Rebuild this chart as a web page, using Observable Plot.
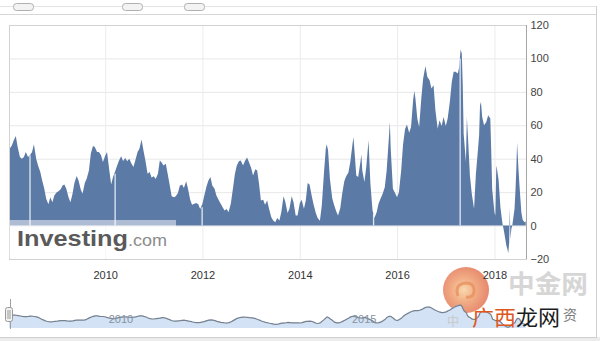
<!DOCTYPE html>
<html><head><meta charset="utf-8">
<script src="https://cdn.jsdelivr.net/npm/d3@7"></script>
<script src="https://cdn.jsdelivr.net/npm/@observablehq/plot@0.6"></script>
<style>
body{margin:0;background:#fff;}
#wrap{position:relative;width:600px;height:341px;overflow:hidden;font-family:"Liberation Sans",Arial,sans-serif;background:#fff}
.abs{position:absolute;left:0;top:0}
</style></head><body>
<div id="wrap">
<svg id="under" class="abs" width="600" height="341">
  <defs><radialGradient id="rg" cx="0.45" cy="0.5" r="0.55">
    <stop offset="0" stop-color="#f8d3a4"/><stop offset="0.5" stop-color="#efa176"/><stop offset="1" stop-color="#e47b5d"/>
  </radialGradient></defs>
  <circle cx="466" cy="290" r="23" fill="url(#rg)" opacity="0.9"/>
  <path d="M458 296 q-4 -12 8 -13 q9 0 8 9 q-1 6 -8 5" fill="none" stroke="#e9915f" stroke-width="3" opacity="0.8"/>
</svg>
<div id="main" class="abs"></div>
<div id="nav" class="abs" style="top:290px"></div>
<svg id="over" class="abs" width="600" height="341" style="pointer-events:none">
  <line x1="0" x2="597" y1="6.5" y2="6.5" stroke="#e4e4e4"/>
  <line x1="0" x2="597" y1="14.5" y2="14.5" stroke="#d6d6d6"/>
  <rect x="13.5" y="3.5" width="20" height="7" rx="3" fill="#f3f3f3" stroke="#b0b0b0"/>
  <rect x="122.5" y="3.5" width="20" height="7" rx="3" fill="#f3f3f3" stroke="#b0b0b0"/>
  <rect x="184.5" y="3.5" width="20" height="7" rx="3" fill="#f3f3f3" stroke="#b0b0b0"/>
  <line x1="596.5" x2="596.5" y1="6" y2="337" stroke="#d0d0d0"/>
  <rect x="0" y="337" width="600" height="4" fill="#ececec"/>
  <line x1="0" x2="597" y1="337.5" y2="337.5" stroke="#cfcfcf"/>
  <rect x="9.5" y="220" width="166.5" height="38" fill="#fff" fill-opacity="0.5"/>
  <text x="17" y="246" font-family="Liberation Sans, Arial, sans-serif" font-weight="bold" font-size="22" fill="#5a5a5a" textLength="111" lengthAdjust="spacingAndGlyphs">Investing</text>
  <text x="128" y="246" font-family="Liberation Sans, Arial, sans-serif" font-size="17" fill="#8c8c8c" textLength="39" lengthAdjust="spacingAndGlyphs">.com</text>
  <line x1="10.5" x2="10.5" y1="299" y2="329" stroke="#a0a0a0"/>
  <rect x="5.5" y="307.5" width="7" height="14" rx="2" fill="#f2f2f2" stroke="#999"/>
  <line x1="8" x2="8" y1="310" y2="319" stroke="#999"/>
  <line x1="10" x2="10" y1="310" y2="319" stroke="#999"/>
  <text x="508" y="293" font-family="Noto Sans CJK SC" font-weight="bold" font-size="25" fill="#d6d6d6" textLength="80" lengthAdjust="spacingAndGlyphs">中金网</text>
  <text x="447" y="326" font-family="Noto Sans CJK SC" font-size="12" fill="#c9c9c9">中</text>
  <text x="472" y="325" font-family="Noto Sans CJK SC" font-size="21" textLength="88" lengthAdjust="spacingAndGlyphs"><tspan fill="#e0571d">广西</tspan><tspan fill="#1c1c1c">龙网</tspan></text>
  <text x="563" y="320" font-family="Noto Sans CJK SC" font-size="14" fill="#7a7a7a">资</text>
</svg>
</div>
<script>
const dates = [
"2008-01-10","2008-01-15","2008-02-01","2008-02-15","2008-03-01","2008-03-15","2008-04-01","2008-04-15","2008-05-01","2008-05-15","2008-06-01","2008-06-15","2008-07-01","2008-07-15","2008-08-01","2008-08-15","2008-09-01","2008-09-15","2008-10-01","2008-10-15","2008-11-01","2008-11-15","2008-12-01","2008-12-15",
"2009-01-01","2009-01-15","2009-02-01","2009-02-15","2009-03-01","2009-03-15","2009-04-01","2009-04-15","2009-05-01","2009-05-15","2009-06-01","2009-06-15","2009-07-01","2009-07-15","2009-08-01","2009-08-15","2009-09-01","2009-09-15","2009-10-01","2009-10-15","2009-11-01","2009-11-15","2009-12-01","2009-12-15",
"2010-01-01","2010-01-15","2010-02-01","2010-02-15","2010-03-01","2010-03-15","2010-04-01","2010-04-15","2010-05-01","2010-05-15","2010-06-01","2010-06-15","2010-07-01","2010-07-15","2010-08-01","2010-08-15","2010-09-01","2010-09-15","2010-10-01","2010-10-15","2010-11-01","2010-11-15","2010-12-01","2010-12-15",
"2011-01-01","2011-01-15","2011-02-01","2011-02-15","2011-03-01","2011-03-15","2011-04-01","2011-04-15","2011-05-01","2011-05-15","2011-06-01","2011-06-15","2011-07-01","2011-07-15","2011-08-01","2011-08-15","2011-09-01","2011-09-15","2011-10-01","2011-10-15","2011-11-01","2011-11-15","2011-12-01","2011-12-15",
"2012-01-01","2012-01-15","2012-02-01","2012-02-15","2012-03-01","2012-03-15","2012-04-01","2012-04-15","2012-05-01","2012-05-15","2012-06-01","2012-06-15","2012-07-01","2012-07-15","2012-08-01","2012-08-15","2012-09-01","2012-09-15","2012-10-01","2012-10-15","2012-11-01","2012-11-15","2012-12-01","2012-12-15",
"2013-01-01","2013-01-15","2013-02-01","2013-02-15","2013-03-01","2013-03-15","2013-04-01","2013-04-15","2013-05-01","2013-05-15","2013-06-01","2013-06-15","2013-07-01","2013-07-15","2013-08-01","2013-08-15","2013-09-01","2013-09-15","2013-10-01","2013-10-15","2013-11-01","2013-11-15","2013-12-01","2013-12-15",
"2014-01-01","2014-01-15","2014-02-01","2014-02-15","2014-03-01","2014-03-15","2014-04-01","2014-04-15","2014-05-01","2014-05-15","2014-06-01","2014-06-15","2014-07-01","2014-07-15","2014-07-22","2014-08-01","2014-08-15","2014-09-01","2014-09-15","2014-10-01","2014-10-15","2014-11-01","2014-11-15","2014-12-01","2014-12-15",
"2015-01-01","2015-01-15","2015-02-01","2015-02-08","2015-02-15","2015-03-01","2015-03-15","2015-04-01","2015-04-08","2015-04-15","2015-05-01","2015-05-15","2015-06-01","2015-06-15","2015-07-01","2015-07-15","2015-08-01","2015-08-15","2015-09-01","2015-09-15","2015-10-01","2015-10-15","2015-11-01","2015-11-08","2015-11-15","2015-12-01","2015-12-15",
"2016-01-01","2016-01-15","2016-02-01","2016-02-15","2016-03-01","2016-03-15","2016-04-01","2016-04-15","2016-05-01","2016-05-10","2016-05-18","2016-06-01","2016-06-15","2016-07-01","2016-07-15","2016-08-01","2016-08-15","2016-09-01","2016-09-15","2016-10-01","2016-10-15","2016-11-01","2016-11-15","2016-12-01","2016-12-15",
"2017-01-01","2017-01-15","2017-02-01","2017-02-15","2017-03-01","2017-03-15","2017-04-01","2017-04-12","2017-04-22","2017-05-01","2017-05-08","2017-05-15","2017-06-01","2017-06-08","2017-06-15","2017-07-01","2017-07-15","2017-08-01","2017-08-15","2017-09-01","2017-09-08","2017-09-15","2017-09-22","2017-10-01","2017-10-15","2017-11-01","2017-11-15","2017-12-01","2017-12-08","2017-12-15",
"2018-01-01","2018-01-08","2018-01-15","2018-01-22","2018-02-01","2018-02-15","2018-03-01","2018-03-15","2018-04-01","2018-04-08","2018-04-15","2018-04-22","2018-04-26","2018-05-01","2018-05-08","2018-05-15","2018-06-01","2018-06-08","2018-06-15","2018-06-20","2018-07-01","2018-07-08","2018-07-15","2018-07-22","2018-08-01","2018-08-15","2018-08-24"
];
const values = [
45,46,48,51,53.6,47,41,40,41,44,41,42,44,48.7,40,36,32,27,22,16,12.8,17,14,18,
19.8,20.5,21.8,24,24.5,22,17,14,19,25.5,29.7,27,21.8,19,25.5,28,33,43,47.6,47,44,44,42,38,
41.7,44,33,24.5,29,32,36,39,41.5,38.7,40.5,38.5,40,37.5,35,39,44,46,51.5,45,38,31,32,28.7,
29.5,27.8,31,39,37.7,36,37,31,24,17.5,17,17.5,19.5,23.8,24.5,22.5,26.5,22,15.5,12.5,13,13.5,12.8,9.9,
13,18,23.5,27,29,24,22,18,15.5,13.3,11,9,9.9,8,13,21,31,36,38.5,39,36,38.7,40.7,38,
34.5,30,33.7,33,25,15,15.5,12.5,15,10,5,3,2,4.5,3,8,17.5,14,7.5,10,17.5,14,6,6,
13.5,15.5,10,15,25.5,24.5,17.5,12.5,7.5,4.5,2.9,12,31,46,48.7,45,28,16.5,12.5,8.5,6,10.5,19,26.5,29.5,
31.8,38,49,53,45,30,29,38,42.7,33,26,35,51,25,9,4.5,8,13,16.5,19,23,33,53,62,45,22,19.8,
17,20,33,48.5,57.6,60.5,55.5,59,75.5,80.5,76,64,59,76,88,95.4,89,87,82,84,69,58,63,59.6,65,
59.5,64,74.5,86,92,92,91,95,105.4,103,85,55,38,65,55,30,19,10,31,47,54,72,74,65,60,62,66,64,45,22,
8,6,36,33,27.5,11,2,-4,-12,-14,-16.5,-10,11,-8,-2,0,10,21,35,49.7,33,24,16,8,3.5,2,2.5
];
// white gaps in the series
const gapDates = ["2008-06-12","2010-03-13","2011-12-26","2015-07-05","2017-04-15"];
const gapTops = [42, 31, 11, 7, 100];
// tick labels
const yTicks = [-20, 0, 20, 40, 60, 80, 100, 120];
const xTickLabels = ["2010", "2012", "2014", "2016", "2018"];
const navTickLabels = ["2010", "2015"];
const xDomain = ["2008-01-10", "2018-08-26"];

const parse = d3.utcParse("%Y-%m-%d");
const parseY = d3.utcParse("%Y");
const series = dates.map((d, i) => ({date: parse(d), value: values[i]}));
const gaps = gapDates.map((d, i) => ({date: parse(d), top: gapTops[i]}));
const xTicks = xTickLabels.map(parseY);
const navTicks = navTickLabels.map(parseY);
const xdom = xDomain.map(parse);
const font = "Liberation Sans, Arial, sans-serif";

const main = Plot.plot({
  width: 600, height: 290,
  marginLeft: 9, marginRight: 74, marginTop: 25, marginBottom: 31,
  style: {fontFamily: font, fontSize: "11px", color: "#333", background: "transparent"},
  x: {type: "utc", domain: xdom, axis: null},
  y: {domain: [-20, 120], axis: null},
  marks: [
    Plot.gridY(yTicks.slice(1, -1), {stroke: "#e8e8e8", strokeOpacity: 1}),
    Plot.gridX(xTicks, {stroke: "#ececec", strokeOpacity: 1}),
    Plot.areaY(series, {x: "date", y: "value", fill: "#5c7aa6"}),
    Plot.ruleX(gaps, {x: "date", y1: 0, y2: "top", stroke: "#e2e9f3", strokeWidth: 1.3}),
    Plot.frame({stroke: "#d2d2d2"}),
    Plot.ruleX([xdom[1]], {stroke: "#a5a5a5"}),
    Plot.axisY(yTicks, {anchor: "right", tickSize: 0, tickPadding: 4, fill: "#444", fontSize: 11, label: null}),
    Plot.axisX(xTicks, {anchor: "bottom", tickSize: 0, tickPadding: 12, tickFormat: d3.utcFormat("%Y"), fill: "#333", fontSize: 11, label: null})
  ]
});
document.getElementById("main").appendChild(main);

const navMin = d3.min(values), navMax = d3.max(values);
const nav = Plot.plot({
  width: 600, height: 48,
  marginLeft: 9, marginRight: 74, marginTop: 13, marginBottom: 10,
  style: {fontFamily: font, fontSize: "11px", background: "transparent"},
  x: {type: "utc", domain: xdom, axis: null},
  y: {domain: [navMin, navMax], axis: null},
  marks: [
    Plot.areaY(series, Plot.windowY({k: 5, anchor: "middle"}, {x: "date", y1: navMin, y2: "value", fill: "#d3e2f4"})),
    Plot.lineY(series, Plot.windowY({k: 5, anchor: "middle"}, {x: "date", y: "value", stroke: "#76818f", strokeWidth: 1.2})),
    Plot.text(navTicks, {x: d => d, text: d => d3.utcFormat("%Y")(d), frameAnchor: "bottom", textAnchor: "start", dx: 3, dy: -6, fill: "#8593a3", fontSize: 11})
  ]
});
document.getElementById("nav").appendChild(nav);
</script>
</body></html>
